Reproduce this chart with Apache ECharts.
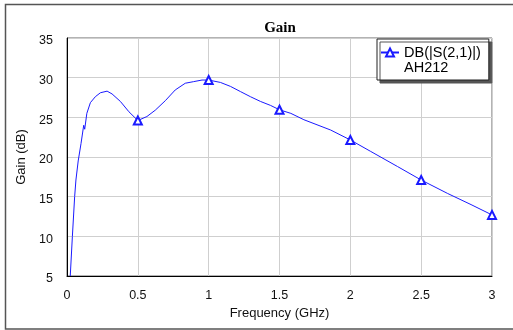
<!DOCTYPE html>
<html>
<head>
<meta charset="utf-8">
<script src="https://cdn.jsdelivr.net/npm/echarts@6/dist/echarts.min.js"></script>
<style>
html,body{margin:0;padding:0;background:#fff;}
#chart{width:513px;height:330px;}
</style>
</head>
<body>
<div id="chart"></div>
<script>
// Frequency (GHz) and gain (dB)
var freq = [0.023, 0.038, 0.054, 0.063, 0.077, 0.079, 0.099, 0.118, 0.125, 0.14, 0.165, 0.2, 0.236, 0.283, 0.318, 0.377, 0.437, 0.5, 0.564, 0.623, 0.694, 0.764, 0.835, 0.894, 0.953, 1.0, 1.083, 1.154, 1.224, 1.295, 1.366, 1.437, 1.5, 1.58, 1.672, 1.861, 2.0, 2.144, 2.333, 2.5, 2.687, 2.852, 3.0];
var gain = [5.0, 10.0, 15.0, 17.1, 17.1, 19.5, 21.7, 24.0, 23.5, 25.5, 26.85, 27.6, 28.1, 28.3, 27.95, 27.0, 25.7, 24.6, 25.1, 25.9, 27.1, 28.45, 29.3, 29.5, 29.7, 29.7, 29.4, 28.9, 28.25, 27.6, 27.0, 26.5, 25.95, 25.5, 24.7, 23.4, 22.15, 20.7, 18.8, 17.1, 15.4, 14.0, 12.7];
// frequencies where the trace carries a marker
var markerFreqs = [0.5, 1.0, 1.5, 2.0, 2.5, 3.0];
var xTicks = { min: 0, max: 3, interval: 0.5 };
var yTicks = { min: 5, max: 35, interval: 5 };
var seriesName = 'DB(|S(2,1)|)';
var seriesSub = 'AH212';
var titleText = 'Gain';
var xName = 'Frequency (GHz)';
var yName = 'Gain (dB)';

var data = freq.map(function (f, i) {
  var item = { value: [f, gain[i]] };
  if (markerFreqs.indexOf(f) < 0) item.symbol = 'none';
  return item;
});

var chart = echarts.init(document.getElementById('chart'), null, { renderer: 'canvas' });
var font = '"Liberation Sans", Arial, sans-serif';
chart.setOption({
  animation: false,
  backgroundColor: '#fff',
  graphic: [{
    type: 'rect', z: -10, silent: true,
    shape: { x: 5.5, y: 4.5, width: 530, height: 324.5 },
    style: { fill: 'none', stroke: '#555', lineWidth: 1.5 }
  }],
  title: {
    text: titleText, left: 280, top: 21, textAlign: 'center', padding: 0,
    textStyle: { fontFamily: '"Liberation Serif", "Times New Roman", serif', fontWeight: 'bold', fontSize: 15, color: '#000' }
  },
  grid: { left: 67, top: 38, right: 21, bottom: 54, show: true, borderColor: '#666', borderWidth: 1, backgroundColor: '#fff' },
  legend: {
    left: 377, top: 39,
    orient: 'vertical',
    padding: [-9, 8, 5, 3],
    itemWidth: 18, itemHeight: 10,
    backgroundColor: '#fff',
    borderColor: '#222', borderWidth: 1,
    shadowColor: '#555', shadowBlur: 0, shadowOffsetX: 3, shadowOffsetY: 3,
    formatter: function (n) { return '\n' + n + '\n' + seriesSub; },
    textStyle: { fontFamily: font, fontSize: 14.5, lineHeight: 15, color: '#000' },
    data: [seriesName]
  },
  xAxis: {
    type: 'value', min: xTicks.min, max: xTicks.max, interval: xTicks.interval,
    name: xName, nameLocation: 'middle', nameGap: 29,
    nameTextStyle: { fontFamily: font, fontSize: 13, color: '#111' },
    axisLine: { show: true, onZero: false, lineStyle: { color: '#000', width: 1 } },
    axisTick: { show: false },
    axisLabel: { fontFamily: font, fontSize: 12.5, color: '#111', margin: 13 },
    splitLine: { show: true, lineStyle: { color: '#cfcfcf', width: 1 } }
  },
  yAxis: {
    type: 'value', min: yTicks.min, max: yTicks.max, interval: yTicks.interval,
    name: yName, nameLocation: 'middle', nameGap: 33,
    nameTextStyle: { fontFamily: font, fontSize: 13, color: '#111' },
    axisLine: { show: true, onZero: false, lineStyle: { color: '#000', width: 1 } },
    axisTick: { show: false },
    axisLabel: { fontFamily: font, fontSize: 12.5, color: '#111', margin: 14, verticalAlign: 'top', lineHeight: 6 },
    splitLine: { show: true, lineStyle: { color: '#cfcfcf', width: 1 } }
  },
  series: [{
    name: seriesName,
    type: 'line',
    data: data,
    symbol: 'emptyTriangle',
    symbolSize: 8,
    showSymbol: true,
    clip: true,
    lineStyle: { color: '#1a1aff', width: 1 },
    itemStyle: { color: '#1a1aff', borderColor: '#1a1aff', borderWidth: 1 }
  }]
});
</script>
</body>
</html>
